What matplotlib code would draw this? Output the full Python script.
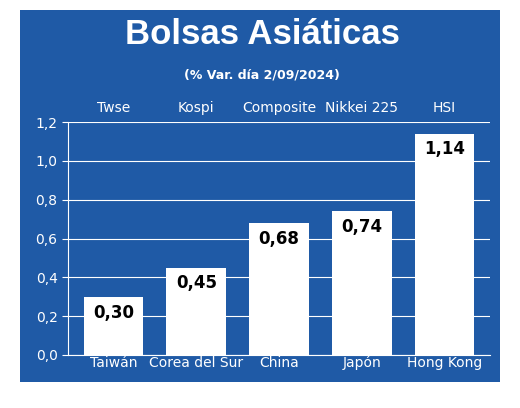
import matplotlib
matplotlib.use("Agg")
import matplotlib.pyplot as plt
from matplotlib.patches import Rectangle

countries = ["Taiwán", "Corea del Sur", "China", "Japón", "Hong Kong"]
indices = ["Twse", "Kospi", "Composite", "Nikkei 225", "HSI"]
values = [0.30, 0.45, 0.68, 0.74, 1.14]
labels = ["0,30", "0,45", "0,68", "0,74", "1,14"]
yticks = [0.0, 0.2, 0.4, 0.6, 0.8, 1.0, 1.2]
ytick_labels = ["0,0", "0,2", "0,4", "0,6", "0,8", "1,0", "1,2"]

W, H = 520, 408
blue = "#1f5aa6"
fig = plt.figure(figsize=(W/100, H/100), dpi=100)
fig.patch.set_facecolor("white")
fig.add_artist(Rectangle((20/W, 1-382/H), 480/W, 372/H, transform=fig.transFigure,
                         facecolor=blue, edgecolor="none", zorder=0))
fig.text(262/W, 1-35/H, "Bolsas Asiáticas", color="white", fontsize=25, fontweight="bold",
         ha="center", va="center", family="Liberation Sans")
fig.text(262/W, 1-75/H, "(% Var. día 2/09/2024)", color="white", fontsize=9, fontweight="bold",
         ha="center", va="center")

ax = fig.add_axes([68/W, 1-355/H, 422/W, 233/H])
ax.set_facecolor(blue)
x = range(len(values))
ax.bar(x, values, width=0.72, color="white", zorder=3)
for xi, v, l in zip(x, values, labels):
    ax.text(xi, v - 0.035, l, ha="center", va="top", fontsize=12, fontweight="bold", color="black", zorder=4)
for xi, c in zip(x, countries):
    ax.text(xi, -0.005, c, ha="center", va="top", fontsize=10, color="white", zorder=4)
for xi, n in zip(x, indices):
    ax.text(xi, 1.27, n, ha="center", va="center", fontsize=10, color="white", clip_on=False)
ax.set_ylim(0, 1.2)
ax.set_xlim(-0.55, 4.55)
ax.set_yticks(yticks)
ax.set_yticklabels(ytick_labels, color="white", fontsize=10)
ax.set_xticks([])
ax.grid(axis="y", color="white", linewidth=0.8, zorder=1)
for s in ["top", "right"]:
    ax.spines[s].set_visible(False)
ax.spines["left"].set_color("white")
ax.spines["bottom"].set_color("white")
ax.tick_params(axis="y", colors="white", length=4)
fig.savefig("out.png", dpi=100, facecolor="white")
